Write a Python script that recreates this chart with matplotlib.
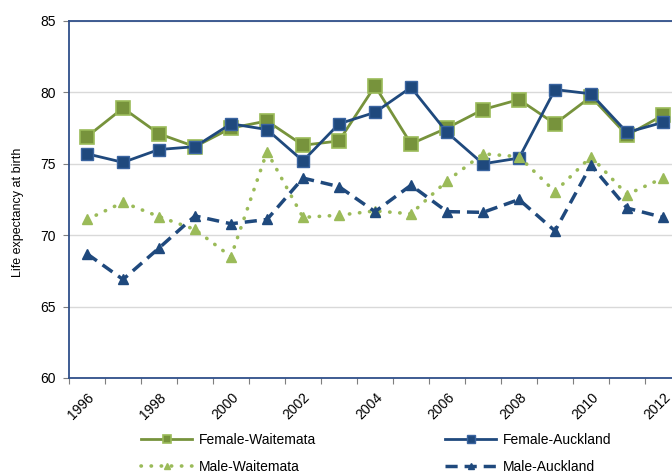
import matplotlib
matplotlib.use("Agg")
import matplotlib.pyplot as plt
from matplotlib.transforms import ScaledTranslation

plt.rcParams['font.family'] = ['Liberation Sans', 'DejaVu Sans']

years = list(range(1996, 2013))
female_waitemata = [76.9, 78.9, 77.1, 76.2, 77.5, 78.0, 76.3, 76.6, 80.45, 76.4, 77.5, 78.8, 79.5, 77.8, 79.7, 77.0, 78.4]
female_auckland = [75.7, 75.1, 76.0, 76.2, 77.8, 77.4, 75.2, 77.8, 78.6, 80.35, 77.2, 75.0, 75.4, 80.2, 79.9, 77.2, 77.9]
male_waitemata = [71.1, 72.3, 71.3, 70.4, 68.5, 75.85, 71.25, 71.4, 71.7, 71.5, 73.8, 75.7, 75.5, 73.05, 75.5, 72.85, 74.0]
male_auckland = [68.7, 66.9, 69.1, 71.35, 70.8, 71.1, 74.0, 73.4, 71.65, 73.5, 71.65, 71.6, 72.5, 70.3, 74.9, 71.9, 71.25]
tick_years = [str(y) for y in range(1996, 2013, 2)]

green = "#77933C"
light_green = "#9BBB59"
blue = "#1F497D"

fig = plt.figure(figsize=(6.72, 4.75), dpi=100)
ax = fig.add_axes([69 / 672, 1 - 378 / 475, 612 / 672, 357 / 475])

x = list(range(len(years)))
l1, = ax.plot(x, female_waitemata, color=green, lw=2, marker='s', ms=9.5,
              mfc=green, mec=light_green, mew=1.2, label="Female-Waitemata")
l2, = ax.plot(x, female_auckland, color=blue, lw=2, marker='s', ms=9,
              mfc=blue, mec="#3A64A0", mew=1, label="Female-Auckland")
l3, = ax.plot(x, male_waitemata, color=light_green, lw=2.6, ls=(0, (0.1, 2.7)),
              dash_capstyle='round', marker='^', ms=7.5, mfc=light_green,
              mec=light_green, label="Male-Waitemata")
l4, = ax.plot(x, male_auckland, color=blue, lw=2.5, ls=(0, (3.5, 2)),
              marker='^', ms=7, mfc=blue, mec=blue, label="Male-Auckland")

ax.set_xlim(-0.5, len(years) - 0.5)
ax.set_ylim(60, 85)
ax.set_yticks(range(60, 90, 5))
ax.yaxis.grid(True, color="#D9D9D9", lw=1)
ax.set_axisbelow(True)

ax.set_xticks([i - 0.5 for i in range(len(years) + 1)], minor=False)
ax.set_xticklabels([])
ax.set_xticks(list(range(0, len(years), 2)), minor=True)
ax.set_xticklabels(tick_years, minor=True, rotation=45, ha='right',
                   rotation_mode='anchor', fontsize=10)
shift = ScaledTranslation(-3 / 100, 0, fig.dpi_scale_trans)
for lab in ax.get_xticklabels(minor=True):
    lab.set_transform(lab.get_transform() + shift)
ax.tick_params(axis='x', which='minor', length=0, pad=9)
ax.tick_params(axis='x', which='major', length=4, color="#7F7F7F")
ax.tick_params(axis='y', length=4, color="#7F7F7F", labelsize=10, pad=5.5)

for side in ['left', 'top', 'bottom', 'right']:
    ax.spines[side].set_color("#2F4F8A")
    ax.spines[side].set_linewidth(1.3)

ax.set_ylabel("Life expectancy at birth", fontsize=9)
ax.yaxis.set_label_coords((24 - 69) / 612, 1 - (212 - 21) / 357)

fig.legend(handles=[l1, l3, l2, l4], ncol=2, frameon=False, fontsize=10,
           loc='upper left', bbox_to_anchor=(141 / 672, 1 - 433 / 475),
           borderpad=0, borderaxespad=0, handlelength=3.7, handletextpad=0.45,
           columnspacing=9.3, labelspacing=0.95, markerscale=0.6)

fig.savefig("out.png", dpi=100)
